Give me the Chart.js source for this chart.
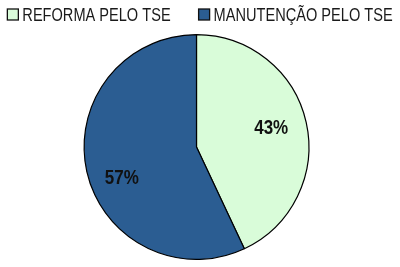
<!DOCTYPE html>
<html>
<head>
<meta charset="utf-8">
<script src="https://cdn.jsdelivr.net/npm/chart.js@4"></script>
<style>
  html, body { margin: 0; padding: 0; background: #fff; }
  #wrap { width: 400px; height: 267px; position: relative; }
</style>
</head>
<body>
<div id="wrap"><canvas id="pie"></canvas></div>
<script>
const labels = ['REFORMA PELO TSE', 'MANUTENÇÃO PELO TSE'];
const values = [43, 57];
const colors = ['#d9fcd9', '#2b5d92'];

const FONT = '"Liberation Sans", Arial, sans-serif';
const NARROW = 0.81; // no Arial Narrow here, so squeeze Arial-metric text

// legend on top, drawn condensed
const narrowLegend = {
    id: 'narrowLegend',
    afterDraw(chart) {
        const ctx = chart.ctx;
        const ds = chart.data.datasets[0];
        const box = 11, gap = 4, spacing = 28;
        ctx.save();
        ctx.font = '18px ' + FONT;
        const widths = chart.data.labels.map(t => ctx.measureText(t).width * NARROW);
        const total = widths.reduce((s, w) => s + box + gap + w, 0) + spacing * (widths.length - 1);
        let x = (chart.width - total) / 2;
        const top = 9;
        chart.data.labels.forEach((t, i) => {
            ctx.fillStyle = ds.backgroundColor[i];
            ctx.fillRect(x, top, box, box);
            ctx.strokeStyle = '#111';
            ctx.lineWidth = 1.3;
            ctx.strokeRect(x, top, box, box);
            ctx.save();
            ctx.translate(x + box + gap, top + box + 0.5);
            ctx.scale(NARROW, 1);
            ctx.fillStyle = '#1a1a1a';
            ctx.textBaseline = 'alphabetic';
            ctx.fillText(t, 0, 0);
            ctx.restore();
            x += box + gap + widths[i] + spacing;
        });
        ctx.restore();
    }
};

// percentage inside each slice
const sliceLabels = {
    id: 'sliceLabels',
    afterDatasetsDraw(chart) {
        const ctx = chart.ctx;
        const meta = chart.getDatasetMeta(0);
        const total = values.reduce((a, b) => a + b, 0);
        const size = 21;
        ctx.save();
        ctx.font = 'bold ' + size + 'px ' + FONT;
        ctx.fillStyle = '#111';
        ctx.textAlign = 'center';
        ctx.textBaseline = 'alphabetic';
        meta.data.forEach((arc, i) => {
            const p = arc.getProps(['x', 'y', 'startAngle', 'endAngle', 'outerRadius']);
            const mid = (p.startAngle + p.endAngle) / 2 - 0.1;
            const r = p.outerRadius * 0.7;
            const pct = Math.round(values[i] / total * 100) + '%';
            ctx.save();
            // baseline sits half a cap height below the anchor, plus a small drop
            ctx.translate(p.x + Math.cos(mid) * r, p.y + Math.sin(mid) * r + size * 0.36 + 4.5);
            ctx.scale(NARROW, 1);
            ctx.fillText(pct, 0, 0);
            ctx.restore();
        });
        ctx.restore();
    }
};

new Chart(document.getElementById('pie'), {
    type: 'pie',
    data: {
        labels: labels,
        datasets: [{
            data: values,
            backgroundColor: colors,
            borderColor: '#000',
            borderWidth: 1.2
        }]
    },
    options: {
        responsive: true,
        maintainAspectRatio: false,
        animation: false,
        layout: { padding: { top: 34, bottom: 7, left: 0, right: 7 } },
        plugins: {
            tooltip: { enabled: false },
            legend: { display: false }
        }
    },
    plugins: [narrowLegend, sliceLabels]
});
</script>
</body>
</html>
